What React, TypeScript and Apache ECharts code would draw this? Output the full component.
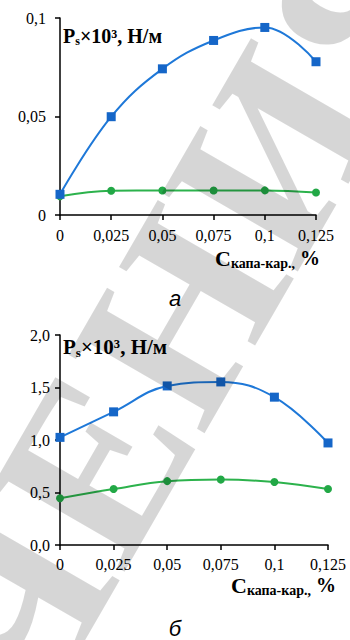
import React, { useEffect, useRef } from "react";
import * as echarts from "echarts";

const xValues = [0, 0.025, 0.05, 0.075, 0.1, 0.125];
const xTickLabels = ["0", "0,025", "0,05", "0,075", "0,1", "0,125"];
const topBlue = [0.0105, 0.0499, 0.0742, 0.0886, 0.0952, 0.0778];
const topGreen = [0.0095, 0.0123, 0.0124, 0.0124, 0.0125, 0.0114];
const bottomBlue = [1.025, 1.268, 1.515, 1.553, 1.408, 0.972];
const bottomGreen = [0.445, 0.533, 0.608, 0.623, 0.6, 0.533];
const topYTickLabels = ["0", "0,05", "0,1"];
const bottomYTickLabels = ["0,0", "0,5", "1,0", "1,5", "2,0"];

const SERIF = "Liberation Serif, serif";
const BLUE_LINE = "#1e78d8";
const BLUE_MARK = "#1566c8";
const GREEN_LINE = "#2cb24c";
const GREEN_MARK = "#22a846";

function pairs(ys: number[]) {
  return xValues.map((x, i) => [x, ys[i]]);
}

function xAxis(gridIndex: number, margin: number) {
  return {
    type: "value",
    gridIndex,
    min: 0,
    max: 0.125,
    interval: 0.025,
    splitLine: { show: false },
    axisLine: { show: true, lineStyle: { color: "#000", width: 1.5 } },
    axisTick: { show: true, length: 5, lineStyle: { color: "#000", width: 1.5 } },
    axisLabel: {
      margin,
      color: "#000",
      fontFamily: SERIF,
      fontSize: 16,
      formatter: (v: number) => xTickLabels[Math.round(v / 0.025)] ?? "",
    },
  };
}

function yAxis(gridIndex: number, max: number, interval: number, labels: string[], margin: number) {
  return {
    type: "value",
    gridIndex,
    min: 0,
    max,
    interval,
    splitLine: { show: false },
    axisLine: { show: true, lineStyle: { color: "#000", width: 1.5 } },
    axisTick: { show: true, length: 5, lineStyle: { color: "#000", width: 1.5 } },
    axisLabel: {
      margin,
      color: "#000",
      fontFamily: SERIF,
      fontSize: 16,
      formatter: (v: number) => labels[Math.round(v / interval)] ?? "",
    },
  };
}

function lineSeries(idx: number, ys: number[], blue: boolean) {
  return {
    type: "line",
    xAxisIndex: idx,
    yAxisIndex: idx,
    data: pairs(ys),
    smooth: 0.4,
    clip: false,
    symbol: blue ? "rect" : "circle",
    symbolSize: blue ? 9 : 8,
    itemStyle: { color: blue ? BLUE_MARK : GREEN_MARK },
    lineStyle: { color: blue ? BLUE_LINE : GREEN_LINE, width: 2 },
    z: blue ? 3 : 2,
  };
}

function yName(x: number, y: number, size: number) {
  return {
    type: "text",
    x,
    y,
    z: 50,
    style: {
      text: "{a|P}{b|s}{a|×10³, Н/м}",
      verticalAlign: "middle",
      rich: {
        a: { fontFamily: SERIF, fontWeight: "bold", fontSize: size, fill: "#000", lineHeight: size + 2, verticalAlign: "middle" },
        b: { fontFamily: SERIF, fontWeight: "bold", fontSize: Math.round(size * 0.62), fill: "#000", lineHeight: 12, verticalAlign: "bottom" },
      },
    },
  };
}

function xName(x: number, y: number) {
  return {
    type: "text",
    x,
    y,
    z: 50,
    style: {
      text: "{c|C}{d|капа-кар.,}{e| %}",
      verticalAlign: "middle",
      rich: {
        c: { fontFamily: SERIF, fontWeight: "bold", fontSize: 22, fill: "#000", lineHeight: 24, verticalAlign: "middle" },
        d: { fontFamily: SERIF, fontWeight: "bold", fontSize: 14, fill: "#000", lineHeight: 14, verticalAlign: "bottom" },
        e: { fontFamily: SERIF, fontWeight: "bold", fontSize: 20, fill: "#000", lineHeight: 24, verticalAlign: "middle" },
      },
    },
  };
}

function caption(x: number, y: number, t: string) {
  return {
    type: "text",
    x,
    y,
    z: 50,
    style: {
      text: t,
      align: "center",
      verticalAlign: "middle",
      fontFamily: "Liberation Sans",
      fontStyle: "italic",
      fontSize: 22,
      fill: "#000",
    },
  };
}

export default function App() {
  const ref = useRef<HTMLDivElement>(null);
  useEffect(() => {
    document.body.style.margin = "0";
    if (!ref.current) return;
    const chart = echarts.init(ref.current, undefined, { renderer: "svg" });
    chart.setOption({
      animation: false,
      backgroundColor: "#fff",
      grid: [
        { left: 60, top: 18, width: 256, height: 197, containLabel: false },
        { left: 60, top: 335, width: 268, height: 210, containLabel: false },
      ],
      xAxis: [xAxis(0, 12), xAxis(1, 11)],
      yAxis: [
        yAxis(0, 0.1, 0.05, topYTickLabels, 14),
        yAxis(1, 2.0, 0.5, bottomYTickLabels, 10),
      ],
      series: [
        lineSeries(0, topBlue, true),
        lineSeries(0, topGreen, false),
        lineSeries(1, bottomBlue, true),
        lineSeries(1, bottomGreen, false),
      ],
      graphic: [
        yName(63, 36, 20),
        yName(63, 347, 21),
        xName(215, 258),
        xName(231, 585),
        caption(175, 298, "а"),
        caption(175, 628, "б"),
        {
          type: "text",
          x: 185,
          y: 305,
          rotation: Math.PI / 3,
          silent: true,
          z: 100,
          style: {
            text: "ЧЕНИЯ",
            align: "center",
            verticalAlign: "middle",
            fontFamily: SERIF,
            fontWeight: "bold",
            fontSize: 240,
            fill: "rgba(0,0,0,0.16)",
          },
        },
      ],
    });
    return () => chart.dispose();
  }, []);
  return <div ref={ref} style={{ position: "absolute", left: 0, top: 0, width: 350, height: 640 }} />;
}
